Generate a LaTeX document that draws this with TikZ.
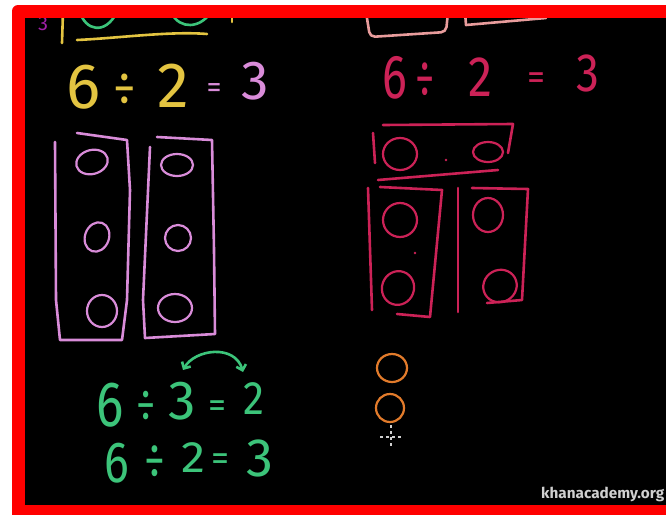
\documentclass[tikz,border=0pt]{standalone}
\usepackage{fontspec}
\usepackage{graphicx}
\setmainfont{Fira Sans}
\usetikzlibrary{arrows.meta}
\definecolor{kyellow}{HTML}{E3C441}
\definecolor{korchid}{HTML}{D98CD9}
\definecolor{kcrimson}{HTML}{CC2257}
\definecolor{kgreen}{HTML}{3CC47A}
\definecolor{korange}{HTML}{E27B2B}
\definecolor{ksalmon}{HTML}{E89C9C}
\definecolor{kpurple}{HTML}{A020A8}
\definecolor{kred}{HTML}{FF0000}
\definecolor{klogo}{HTML}{D0D0D0}
\newcommand\kgl[3]{\scalebox{#2}[1]{\fontsize{#1}{#1}\selectfont #3}}
\begin{document}
\begin{tikzpicture}[x=1pt,y=-1pt,
  chalk/.style={line width=2.6pt,line cap=round,line join=round},
  thinchalk/.style={line width=2.2pt,line cap=round,line join=round},
  glyph/.style={inner sep=0pt,outer sep=0pt,anchor=center},
  barb/.tip={Straight Barb[length=5pt,width=10pt]}
]
\useasboundingbox (0,0) rectangle (666,514);
\fill[white] (0,0) rectangle (666,514);
\fill[kred,rounded corners=6pt] (12,5) rectangle (700,540);
\fill[black] (25,18) rectangle (666,505);
\begin{scope}
\clip (25,18) rectangle (666,505);
% top-left remnants
\node[glyph,text=kpurple] (p3) at (43,24) {\kgl{20}{1}{3}};
\draw[chalk,kyellow] (63,12) -- (62,43);
\draw[chalk,kyellow] (77,40) .. controls (120,38) and (170,31) .. (207,34);
\draw[chalk,kyellow] (232,15) -- (232,22);
\draw[chalk,kgreen] (80,12) .. controls (85,30) and (105,36) .. (117,12);
\draw[chalk,kgreen] (172,14) .. controls (180,29) and (200,29) .. (211,12);
% top-right remnants
\draw[chalk,ksalmon,rounded corners=5pt] (366,12) -- (370,37) -- (446,32) -- (448,12);
\draw[chalk,ksalmon] (465,12) -- (466,25) -- (546,18);
% yellow equation
\node[glyph,text=kyellow] (y6) at (84,87) {\kgl{64}{1}{6}};
\node[glyph,text=kyellow] (ydiv) at (125,90) {\kgl{50}{0.9}{÷}};
\node[glyph,text=kyellow] (y2) at (173,86) {\kgl{64}{1}{2}};
\node[glyph,text=korchid] (yeq) at (214,91) {\kgl{30}{1}{=}};
\node[glyph,text=korchid] (y3) at (255,81) {\kgl{55}{1}{3}};
% crimson equation
\node[glyph,text=kcrimson] (c6) at (395,78) {\kgl{62}{0.75}{6}};
\node[glyph,text=kcrimson] (cdiv) at (425,80) {\kgl{55}{0.7}{÷}};
\node[glyph,text=kcrimson] (c2) at (480,77) {\kgl{57}{0.85}{2}};
\node[glyph,text=kcrimson] (ceq) at (536,81) {\kgl{36}{1}{=}};
\node[glyph,text=kcrimson] (c3) at (588,73) {\kgl{54}{0.85}{3}};
% orchid boxes
\draw[chalk,korchid] (55,142) -- (56,300) -- (60,340) -- (122,340) -- (127,300) -- (130,190) -- (127,140) -- (77,133);
\draw[chalk,korchid] (157,137) -- (212,140) -- (214,250) -- (215,334) -- (145,338) -- (143,300) -- (150,147);
\draw[thinchalk,korchid] (92,162) ellipse [x radius=16pt,y radius=12pt,rotate=15];
\draw[thinchalk,korchid] (97,237) ellipse [x radius=12pt,y radius=15pt,rotate=-20];
\draw[thinchalk,korchid] (102,311) ellipse [x radius=15pt,y radius=16pt];
\draw[thinchalk,korchid] (177,165) ellipse [x radius=16pt,y radius=11pt];
\draw[thinchalk,korchid] (178,238) ellipse [x radius=13pt,y radius=13pt];
\draw[thinchalk,korchid] (175,308) ellipse [x radius=17pt,y radius=14pt];
% crimson boxes
\draw[chalk,kcrimson] (383,125) -- (513,124) -- (508,153);
\draw[chalk,kcrimson] (373,133) -- (375,163);
\draw[chalk,kcrimson] (378,180) -- (498,170);
\draw[thinchalk,kcrimson] (400,154) ellipse [x radius=17pt,y radius=16pt];
\draw[thinchalk,kcrimson] (488,152) ellipse [x radius=15pt,y radius=10pt];
\fill[kcrimson] (446,160) circle (1.3pt);
\draw[chalk,kcrimson] (380,187) -- (442,190) -- (430,317) -- (397,314);
\draw[chalk,kcrimson] (368,188) -- (372,310);
\draw[thinchalk,kcrimson] (400,220) ellipse [x radius=17pt,y radius=17pt];
\draw[thinchalk,kcrimson] (398,288) ellipse [x radius=16pt,y radius=17pt,rotate=-20];
\fill[kcrimson] (415,253) circle (1.3pt);
\draw[chalk,kcrimson] (458,188) -- (458,312);
\draw[chalk,kcrimson] (472,188) -- (528,189) -- (522,300) -- (487,303);
\draw[thinchalk,kcrimson] (488,215) ellipse [x radius=15pt,y radius=17pt];
\draw[thinchalk,kcrimson] (500,286) ellipse [x radius=17pt,y radius=16pt,rotate=30];
% orange circles
\draw[thinchalk,korange] (392,368) ellipse [x radius=15pt,y radius=14pt];
\draw[thinchalk,korange] (390,408) ellipse [x radius=14pt,y radius=14pt];
% cursor
\draw[klogo,line width=1.5pt,dash pattern=on 3pt off 3pt] (391,425) -- (391,448);
\draw[klogo,line width=1.5pt,dash pattern=on 3pt off 3pt] (380,437) -- (402,437);
% green arrow and equations
\draw[chalk,kgreen,barb-barb] (183,370) .. controls (195,349) and (235,344) .. (243,372);
\node[glyph,text=kgreen] (g6) at (110,405) {\kgl{64}{0.8}{6}};
\node[glyph,text=kgreen] (gdiv) at (146,406) {\kgl{48}{0.8}{÷}};
\node[glyph,text=kgreen] (g3) at (182,401) {\kgl{55}{1}{3}};
\node[glyph,text=kgreen] (geq) at (217,409) {\kgl{36}{1}{=}};
\node[glyph,text=kgreen] (g2) at (254,399) {\kgl{47}{0.9}{2}};
\node[glyph,text=kgreen] (h6) at (117,463) {\kgl{58}{0.8}{6}};
\node[glyph,text=kgreen] (hdiv) at (155,462) {\kgl{52}{0.8}{÷}};
\node[glyph,text=kgreen] (h2) at (193,458) {\kgl{44}{1.1}{2}};
\node[glyph,text=kgreen] (heq) at (220,462) {\kgl{36}{1}{=}};
\node[glyph,text=kgreen] (h3) at (260,458) {\kgl{54}{1}{3}};
% logo
\node[anchor=west,inner sep=0pt,text=klogo] (logo) at (541,494) {\kgl{15}{1.02}{\bfseries khanacademy.org}};
\end{scope}
\end{tikzpicture}
\end{document}
